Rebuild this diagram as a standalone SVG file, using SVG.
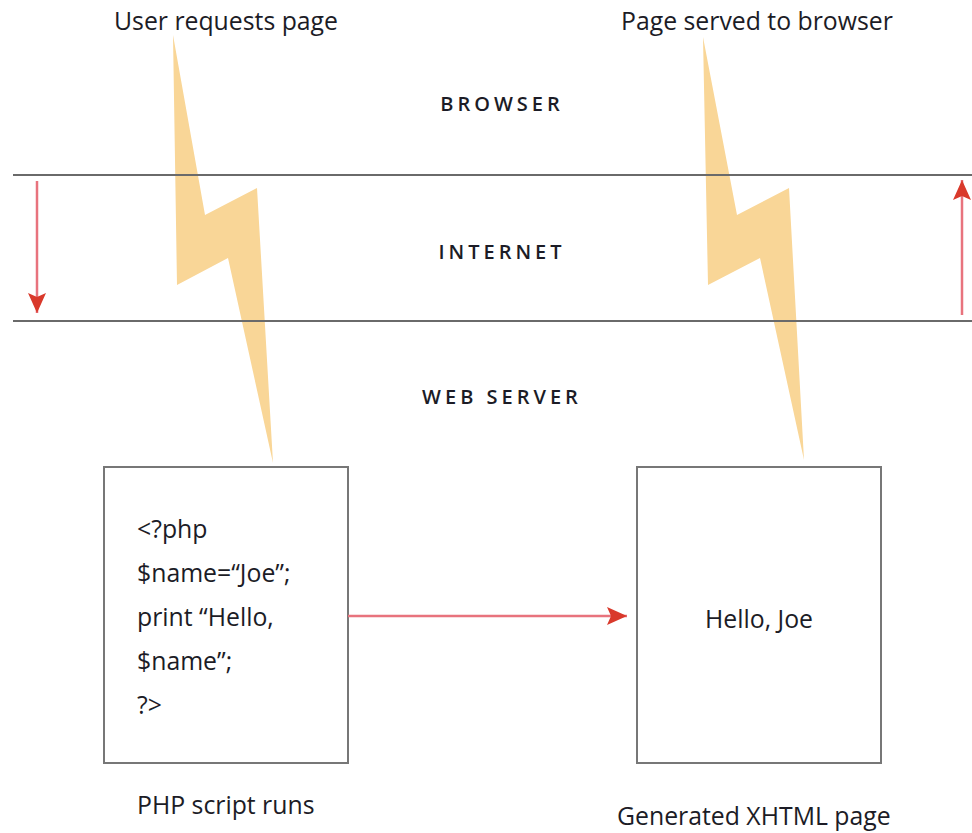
<svg xmlns="http://www.w3.org/2000/svg" width="972" height="833" viewBox="0 0 972 833">
<style>
.t{font-family:"Open Sans","Liberation Sans",sans-serif;fill:#1c1c26;font-size:24.8px;font-weight:500}
.lay{font-family:"Open Sans","Liberation Sans",sans-serif;fill:#1c1c26;font-size:20px;font-weight:600;letter-spacing:4px;text-anchor:middle}
.bolt{fill:#f9d697}
.box{fill:#fff;stroke:#777;stroke-width:2}
.rule{stroke:#6a6a6a;stroke-width:2}
.red{stroke:#e8737d;stroke-width:2.5;fill:none}
.head{fill:#d9392b}
</style>
<defs>
<marker id="ah" viewBox="0 0 20 18" refX="20" refY="9" markerWidth="20" markerHeight="18" markerUnits="userSpaceOnUse" orient="auto">
<path d="M0,0 L20,9 L0,18 L4,9 Z" class="head"/>
</marker>
</defs>
<rect width="972" height="833" fill="#fff"/>
<g id="bolts">
<polygon class="bolt" points="173,35 205,215 257,188 273,463 228,258 177,285"/>
<polygon class="bolt" points="703,37 737,215 789,188 804,460 760,258 708,285"/>
</g>
<g id="layers">
<line class="rule" x1="13" y1="175" x2="972" y2="175"/>
<line class="rule" x1="13" y1="321" x2="972" y2="321"/>
<text class="lay" x="502" y="111">BROWSER</text>
<text class="lay" x="502" y="259">INTERNET</text>
<text class="lay" x="502" y="404">WEB SERVER</text>
</g>
<g id="titles">
<text class="t" x="114" y="30">User requests page</text>
<text class="t" x="621" y="30">Page served to browser</text>
</g>
<g id="php">
<rect class="box" x="104" y="467" width="244" height="296"/>
<text class="t" x="137" y="538">&lt;?php</text>
<text class="t" x="137" y="582">$name=“Joe”;</text>
<text class="t" x="137" y="626">print “Hello,</text>
<text class="t" x="137" y="670">$name”;</text>
<text class="t" x="137" y="714">?&gt;</text>
<text class="t" x="137" y="814">PHP script runs</text>
</g>
<g id="xhtml">
<rect class="box" x="637" y="467" width="244" height="296"/>
<text class="t" x="759" y="628" text-anchor="middle">Hello, Joe</text>
<text class="t" x="617" y="825">Generated XHTML page</text>
</g>
<g id="connectors">
<line class="red" x1="37" y1="181" x2="37" y2="313" marker-end="url(#ah)"/>
<line class="red" x1="962" y1="315" x2="962" y2="180" marker-end="url(#ah)"/>
<line class="red" x1="348" y1="616" x2="627" y2="616" marker-end="url(#ah)"/>
</g>
</svg>
